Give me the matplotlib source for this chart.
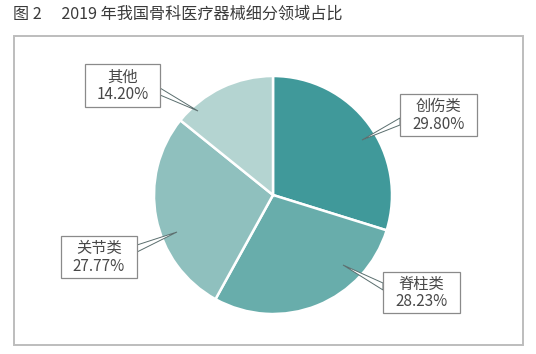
import matplotlib
matplotlib.use("Agg")
import matplotlib.pyplot as plt
from matplotlib.patches import Rectangle, Polygon

plt.rcParams['font.family'] = ['Noto Sans CJK SC', 'DejaVu Sans']

title = "图 2\u3000 2019 年我国骨科医疗器械细分领域占比"
categories = ["创伤类", "脊柱类", "关节类", "其他"]
values = [29.80, 28.23, 27.77, 14.20]
labels = ["29.80%", "28.23%", "27.77%", "14.20%"]
colors = ["#40999a", "#68adab", "#8fc0be", "#b4d4d1"]

W, H = 536, 354
fig = plt.figure(figsize=(W / 100, H / 100), dpi=100)
ax = fig.add_axes([0, 0, 1, 1])

def Y(y):
    return H - y

# pie
ax.pie(values, colors=colors, startangle=90, counterclock=False,
       center=(273, Y(195)), radius=119, frame=True,
       wedgeprops=dict(edgecolor='white', linewidth=1.8))
ax.set_xlim(0, W)
ax.set_ylim(0, H)
ax.set_aspect('equal')
ax.axis('off')

# outer frame
ax.add_patch(Rectangle((13.5, Y(345)), 509.5, 309, fill=False, edgecolor="#bdbdbd", linewidth=1.4))

# title
ax.text(13, Y(14), title, fontsize=11.6, color="#3a3a3a", va='center', ha='left')

# callout boxes: (x0, y0, x1, y1), leader (side x, y_a, y_b, tip x, tip y)
boxes = [
    ((400, 94, 477, 136), (400, 118, 125, 362, 140)),
    ((383, 272, 460, 313), (383, 283, 290, 343, 265)),
    ((61, 236, 137, 278), (137, 245, 252, 177, 232)),
    ((85, 64, 160, 107), (160, 88, 95, 198, 111)),
]
for (cat, lab, (b, l)) in zip(categories, labels, boxes):
    x0, y0, x1, y1 = b
    sx, ya, yb, tx, ty = l
    ax.add_patch(Polygon([(sx, Y(ya)), (tx, Y(ty)), (sx, Y(yb))], closed=True,
                         facecolor='white', edgecolor='#5a6e6e', linewidth=0.7, zorder=4))
    ax.add_patch(Rectangle((x0, Y(y1)), x1 - x0, y1 - y0, facecolor='white',
                           edgecolor='#8a8a8a', linewidth=0.9, zorder=5))
    cx = (x0 + x1) / 2
    ax.text(cx, Y(y0 + (y1 - y0) * 0.3), cat, fontsize=11, color="#484848",
            ha='center', va='center', zorder=6)
    ax.text(cx, Y(y0 + (y1 - y0) * 0.72), lab, fontsize=11, color="#484848",
            ha='center', va='center', zorder=6)

fig.savefig("out.png", dpi=100)
